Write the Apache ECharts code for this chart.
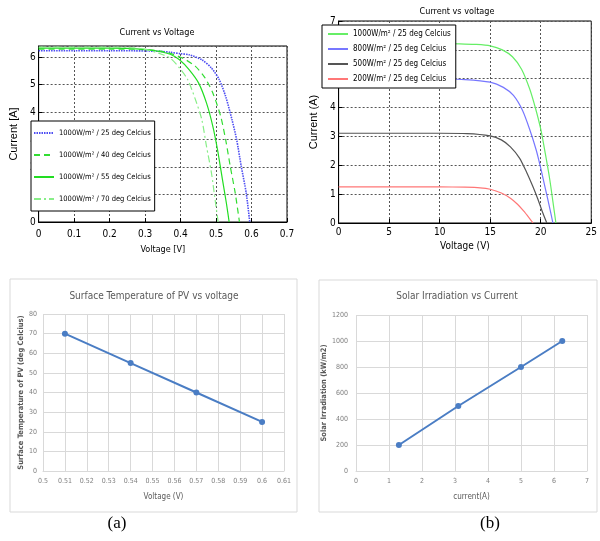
<!DOCTYPE html>
<html>
<head>
<meta charset="utf-8">
<script src="https://cdn.jsdelivr.net/npm/echarts@6/dist/echarts.min.js"></script>
<style>
  html, body { margin: 0; padding: 0; background: #fff; overflow: hidden; }
  .box { position: absolute; }
</style>
</head>
<body>
<div id="tl" class="box" style="left:0;top:0;width:300px;height:260px"></div>
<div id="tr" class="box" style="left:300px;top:0;width:300px;height:260px"></div>
<div id="bot" class="box" style="left:0;top:260px;width:600px;height:281px"></div>
<script>
// I-V curves of one cell at 1000 W/m2, several temperatures [V, A]
const temp25 = [[0, 6.23], [0.1, 6.23], [0.2, 6.23], [0.3, 6.22], [0.35, 6.2], [0.371, 6.17], [0.4, 6.12], [0.424, 6.08],
  [0.46, 5.9], [0.487, 5.6], [0.509, 5.18], [0.527, 4.57], [0.545, 3.72], [0.558, 3.0], [0.571, 2.03], [0.585, 1.06], [0.595, 0]];
const temp40 = [[0, 6.29], [0.1, 6.29], [0.2, 6.29], [0.3, 6.27], [0.35, 6.2], [0.371, 6.13], [0.406, 5.96], [0.442, 5.66],
  [0.469, 5.24], [0.491, 4.69], [0.513, 3.85], [0.527, 3.0], [0.54, 2.03], [0.554, 1.06], [0.566, 0]];
const temp55 = [[0, 6.32], [0.1, 6.32], [0.2, 6.32], [0.3, 6.28], [0.34, 6.2], [0.371, 6.1], [0.397, 5.9], [0.424, 5.54],
  [0.451, 5.05], [0.473, 4.33], [0.491, 3.48], [0.504, 2.64], [0.518, 1.55], [0.529, 0.7], [0.537, 0]];
const temp70 = [[0, 6.36], [0.1, 6.36], [0.2, 6.36], [0.27, 6.33], [0.31, 6.25], [0.34, 6.13], [0.371, 5.96], [0.397, 5.6],
  [0.42, 5.18], [0.442, 4.45], [0.46, 3.72], [0.473, 2.76], [0.487, 1.79], [0.496, 0.94], [0.506, 0]];

// I-V curves of the module at 25 deg C, several irradiations [V, A]
const irr1000 = [[0, 6.22], [5, 6.22], [10, 6.22], [12, 6.21], [13.5, 6.19], [15, 6.14], [16.2, 6.0], [17.2, 5.76],
  [18.1, 5.33], [18.9, 4.65], [19.5, 3.95], [20, 3.25], [20.45, 2.41], [20.9, 1.49], [21.2, 0.75], [21.5, 0]];
const irr800 = [[0, 5.0], [5, 5.0], [10, 4.99], [12.5, 4.97], [15, 4.88], [16.3, 4.7], [17.3, 4.42], [18.2, 3.9],
  [18.9, 3.25], [19.55, 2.53], [20, 1.9], [20.45, 1.2], [20.9, 0.5], [21.2, 0]];
const irr500 = [[0, 3.11], [5, 3.11], [10, 3.11], [12.7, 3.1], [15, 3.02], [16.1, 2.88], [17, 2.64], [17.9, 2.25],
  [18.6, 1.76], [19.2, 1.28], [19.7, 0.84], [20.15, 0.4], [20.6, 0]];
const irr200 = [[0, 1.25], [5, 1.25], [10, 1.25], [12.5, 1.24], [14, 1.22], [15, 1.17], [16.1, 1.04], [17, 0.86],
  [17.7, 0.65], [18.3, 0.42], [18.85, 0.18], [19.24, 0]];

// summary points
const voltageV = [0.51, 0.54, 0.57, 0.60];
const tempC = [70, 55, 40, 25];
const currentA = [1.3, 3.1, 5.0, 6.25];
const irradiation = [200, 500, 800, 1000];

const tempNames = ['1000W/m² / 25 deg Celcius', '1000W/m² / 40 deg Celcius', '1000W/m² / 55 deg Celcius', '1000W/m² / 70 deg Celcius'];
const irrNames = ['1000W/m² / 25 deg Celcius', '800W/m² / 25 deg Celcius', '500W/m² / 25 deg Celcius', '200W/m² / 25 deg Celcius'];

const narrow = "'Liberation Sans Narrow','DejaVu Sans Condensed',sans-serif";

// MATLAB-like axis
function matAxis(o) {
  return Object.assign({
    type: 'value',
    nameLocation: 'middle',
    nameTextStyle: { color: '#000', fontSize: 11, fontFamily: 'Liberation Sans' },
    axisLine: { show: true, lineStyle: { color: '#000' } },
    axisTick: { show: true, inside: true, length: 4, lineStyle: { color: '#000' } },
    axisLabel: { color: '#000', fontSize: 10, fontFamily: narrow, margin: 4 },
    splitLine: { show: true, lineStyle: { color: '#555', type: [2, 2] } }
  }, o);
}

function curve(name, data, color, type, width) {
  return {
    name: name, type: 'line', data: data, symbol: 'none',
    smooth: 0.25,
    lineStyle: { color: color, type: type, width: width || 1.2 },
    itemStyle: { color: color }
  };
}

function matLegend(o) {
  return Object.assign({
    orient: 'vertical', backgroundColor: '#fff', borderColor: '#000', borderWidth: 1,
    itemWidth: 20, itemHeight: 10, borderRadius: 0,
    itemStyle: { opacity: 0 },
    textStyle: { color: '#000', fontSize: 8, fontFamily: narrow }
  }, o);
}

const tl = echarts.init(document.getElementById('tl'));
tl.setOption({
  animation: false,
  graphic: [{ type: 'text', x: 157, y: 33, style: { text: 'Current vs Voltage', fill: '#000', font: '9px ' + narrow, align: 'center', verticalAlign: 'middle' } }],
  grid: { left: 28, top: 46, width: 259, height: 176, show: true, borderColor: '#000', borderWidth: 1 },
  legend: matLegend({ left: 31, top: 121, itemGap: 14, padding: [8, 4, 8, 2], data: tempNames,
    textStyle: { color: '#000', fontSize: 7.5, fontFamily: narrow } }),
  xAxis: matAxis({ min: 0, max: 0.7, interval: 0.1, name: 'Voltage [V]', nameGap: 23,
    nameTextStyle: { color: '#000', fontSize: 9, fontFamily: narrow },
    axisLabel: { color: '#000', fontSize: 10, fontFamily: narrow, margin: 7 } }),
  yAxis: matAxis({ min: 0, max: 6.4, interval: 1, name: 'Current [A]', nameGap: 6,
    axisLabel: { color: '#000', fontSize: 10, fontFamily: narrow, margin: 3, showMaxLabel: false } }),
  series: [
    curve(tempNames[0], temp25, '#4d4df2', [1.5, 1], 1.6),
    curve(tempNames[1], temp40, '#33dd33', [6, 4]),
    curve(tempNames[2], temp55, '#22dd22', 'solid'),
    curve(tempNames[3], temp70, '#88ee88', [7, 3, 2, 3])
  ]
});

const tr = echarts.init(document.getElementById('tr'));
tr.setOption({
  animation: false,
  graphic: [{ type: 'text', x: 157, y: 12, style: { text: 'Current vs voltage', fill: '#000', font: '9px ' + narrow, align: 'center', verticalAlign: 'middle' } }],
  grid: { left: 20, top: 21, width: 275, height: 202, show: true, borderColor: '#000', borderWidth: 1 },
  legend: matLegend({ left: 22, top: 25, itemGap: 7, padding: [5, 5, 5, 5], data: irrNames }),
  xAxis: matAxis({ min: 0, max: 25, interval: 5, name: 'Voltage (V)', nameGap: 17,
    nameTextStyle: { color: '#000', fontSize: 10, fontFamily: narrow },
    axisLabel: { color: '#000', fontSize: 10, fontFamily: narrow, margin: 4 } }),
  yAxis: matAxis({ min: 0, max: 7, interval: 1, name: 'Current (A)', nameGap: 8,
    axisLabel: { color: '#000', fontSize: 10, fontFamily: narrow, margin: 3 } }),
  series: [
    curve(irrNames[0], irr1000, '#66ee66', 'solid'),
    curve(irrNames[1], irr800, '#7777ff', 'solid'),
    curve(irrNames[2], irr500, '#555555', 'solid'),
    curve(irrNames[3], irr200, '#ff7777', 'solid')
  ]
});

// Excel-like axis
const gridGrey = '#d9d9d9';
function xlAxis(o) {
  return Object.assign({
    type: 'value',
    nameLocation: 'middle',
    nameTextStyle: { color: '#595959', fontSize: 8, fontFamily: narrow },
    axisLine: { show: false },
    axisTick: { show: false },
    axisLabel: { color: '#7f7f7f', fontSize: 7, fontFamily: narrow, margin: 6 },
    splitLine: { show: true, lineStyle: { color: gridGrey, width: 1 } }
  }, o);
}

const bot = echarts.init(document.getElementById('bot'));
bot.setOption({
  animation: false,
  graphic: [
    { type: 'rect', shape: { x: 10, y: 19, width: 287, height: 233 }, style: { fill: 'none', stroke: gridGrey, lineWidth: 1 } },
    { type: 'rect', shape: { x: 319, y: 20, width: 278, height: 232 }, style: { fill: 'none', stroke: gridGrey, lineWidth: 1 } },
    { type: 'text', x: 154, y: 36, style: { text: 'Surface Temperature of PV vs voltage', fill: '#595959', font: '10px ' + narrow, align: 'center', verticalAlign: 'middle' } },
    { type: 'text', x: 457, y: 36, style: { text: 'Solar Irradiation vs Current', fill: '#595959', font: '10px ' + narrow, align: 'center', verticalAlign: 'middle' } },
    { type: 'text', x: 117, y: 264, style: { text: '(a)', fill: '#000', font: '17px "Liberation Serif", serif', align: 'center', verticalAlign: 'middle' } },
    { type: 'text', x: 490, y: 264, style: { text: '(b)', fill: '#000', font: '17px "Liberation Serif", serif', align: 'center', verticalAlign: 'middle' } }
  ],
  grid: [
    { left: 43, top: 54, width: 241, height: 157 },
    { left: 356, top: 55, width: 231, height: 156 }
  ],
  xAxis: [
    xlAxis({ gridIndex: 0, min: 0.5, max: 0.61, interval: 0.01, name: 'Voltage (V)', nameGap: 22,
      axisLine: { show: true, lineStyle: { color: gridGrey } },
      axisLabel: { color: '#7f7f7f', fontSize: 7, fontFamily: narrow, margin: 7, formatter: v => String(+v.toFixed(2)) } }),
    xlAxis({ gridIndex: 1, min: 0, max: 7, interval: 1, name: 'current(A)', nameGap: 22,
      axisLine: { show: true, lineStyle: { color: gridGrey } },
      axisLabel: { color: '#7f7f7f', fontSize: 7, fontFamily: narrow, margin: 7 } })
  ],
  yAxis: [
    xlAxis({ gridIndex: 0, min: 0, max: 80, interval: 10, name: 'Surface Temperature of PV (deg Celcius)', nameGap: 15,
      nameTextStyle: { color: '#595959', fontSize: 7.5, fontFamily: narrow, fontWeight: 'bold' } }),
    xlAxis({ gridIndex: 1, min: 0, max: 1200, interval: 200, name: 'Solar Irradiation (kW/m2)', nameGap: 20,
      nameTextStyle: { color: '#595959', fontSize: 7.5, fontFamily: narrow, fontWeight: 'bold' },
      axisLabel: { color: '#7f7f7f', fontSize: 7, fontFamily: narrow, margin: 8, formatter: v => String(v) } })
  ],
  series: [
    { type: 'line', xAxisIndex: 0, yAxisIndex: 0, data: voltageV.map((v, i) => [v, tempC[i]]),
      symbol: 'circle', symbolSize: 6, lineStyle: { color: '#4a7dc4', width: 2 }, itemStyle: { color: '#4a7dc4' } },
    { type: 'line', xAxisIndex: 1, yAxisIndex: 1, data: currentA.map((v, i) => [v, irradiation[i]]),
      symbol: 'circle', symbolSize: 6, lineStyle: { color: '#4a7dc4', width: 2 }, itemStyle: { color: '#4a7dc4' } }
  ]
});
</script>
</body>
</html>
